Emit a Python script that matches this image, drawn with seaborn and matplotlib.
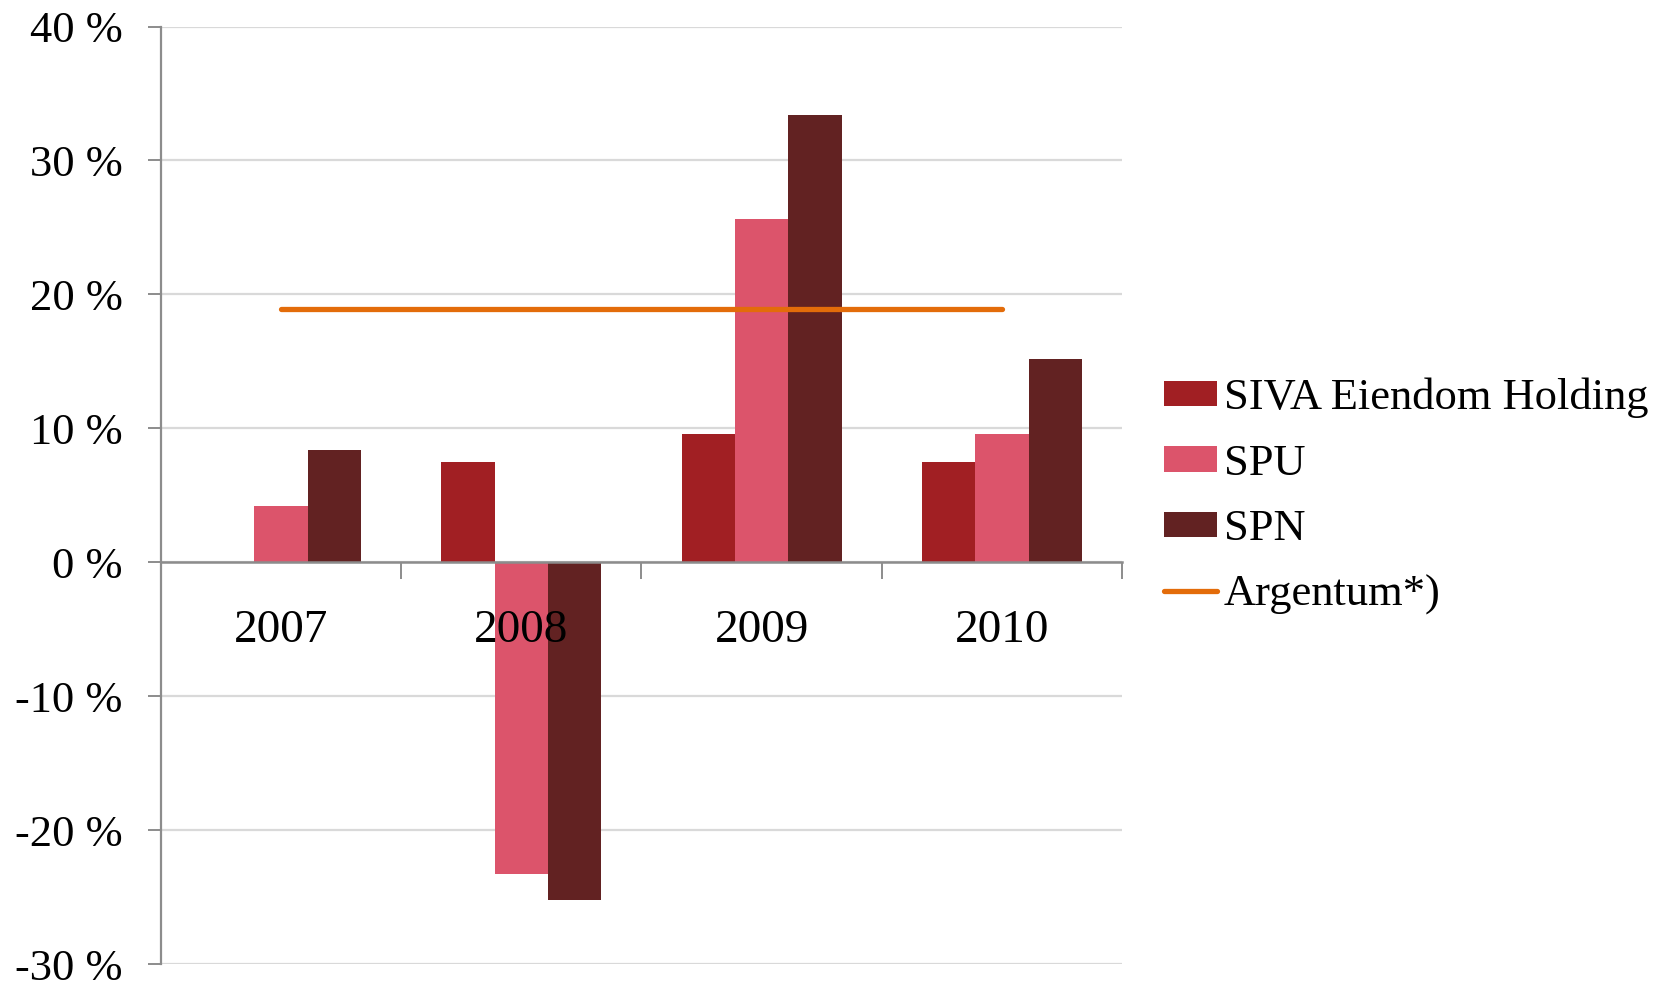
import numpy as np
import pandas as pd
import matplotlib
matplotlib.use("Agg")
import matplotlib.pyplot as plt
import seaborn as sns
from matplotlib.patches import Patch
from matplotlib.lines import Line2D

# ---- data ----
years = ["2007", "2008", "2009", "2010"]
siva = [np.nan, 7.5, 9.6, 7.5]
spu = [4.2, -23.3, 25.6, 9.6]
spn = [8.4, -25.2, 33.4, 15.2]
argentum = [18.9, 18.9, 18.9, 18.9]
series_names = ["SIVA Eiendom Holding", "SPU", "SPN"]
line_name = "Argentum*)"
ytick_values = [-30, -20, -10, 0, 10, 20, 30, 40]
ytick_labels = ["-30 %", "-20 %", "-10 %", "0 %", "10 %", "20 %", "30 %", "40 %"]

# ---- styles ----
bar_colors = ["#A11F23", "#DC546B", "#622222"]
line_color = "#E36C0A"
axis_color = "#8C8C8C"
grid_color = "#D9D9D9"

sns.set_style("white")
plt.rcParams["font.family"] = ["Liberation Serif", "DejaVu Serif"]
plt.rcParams["text.color"] = "black"
plt.rcParams["legend.labelcolor"] = "black"
FS_TICK = 32
FS_YEAR = 34
FS_LEG = 32

rows = []
for name, vals in zip(series_names, [siva, spu, spn]):
    for y, v in zip(years, vals):
        if not np.isnan(v):
            rows.append({"year": y, "series": name, "value": v})
df = pd.DataFrame(rows)

fig = plt.figure(figsize=(16.71, 9.84), dpi=100)
ax = fig.add_axes([0.0963, 0.0203, 0.5752, 0.9527])

sns.barplot(data=df, x="year", y="value", hue="series", order=years,
            hue_order=series_names, palette=bar_colors, width=0.667,
            saturation=1, linewidth=0, edgecolor="none", legend=False,
            errorbar=None, ax=ax)

sns.lineplot(x=np.arange(len(years)), y=argentum, color=line_color, lw=3.8,
             ax=ax, solid_capstyle="round", legend=False, zorder=4)

ax.set_xlim(-0.5, len(years) - 0.5)
ax.set_ylim(-30, 40)
ax.set_xlabel("")
ax.set_ylabel("")

ax.set_yticks(ytick_values)
ax.set_yticklabels(ytick_labels, fontsize=FS_TICK, color="black")
ax.yaxis.grid(True, color=grid_color, lw=1.6)
ax.xaxis.grid(False)
ax.set_axisbelow(True)

ax.set_xticks(np.arange(-0.5, len(years), 1.0))
ax.set_xticklabels([""] * (len(years) + 1))

for s in ["top", "right"]:
    ax.spines[s].set_visible(False)
ax.spines["left"].set_color(axis_color)
ax.spines["left"].set_linewidth(1.6)
ax.spines["bottom"].set_color(axis_color)
ax.spines["bottom"].set_linewidth(1.8)
ax.spines["bottom"].set_position(("data", 0))

ax.tick_params(axis="y", left=True, direction="out", length=9.5, width=1.4,
               color=axis_color, pad=18, labelcolor="black")
ax.tick_params(axis="x", bottom=True, direction="out", length=12, width=1.4,
               color=axis_color)

for i, y in enumerate(years):
    ax.text(i, -5.1, y, ha="center", va="center", fontsize=FS_YEAR,
            color="black", zorder=10)

handles = [Patch(facecolor=c, edgecolor="none") for c in bar_colors]
handles.append(Line2D([0], [0], color=line_color, lw=3.8, solid_capstyle="round"))
labels = series_names + [line_name]
fig.legend(handles, labels, loc="center left", bbox_to_anchor=(0.6966, 0.4955),
           frameon=False, fontsize=FS_LEG, borderpad=0, borderaxespad=0,
           handlelength=1.2, handleheight=0.5, handletextpad=0.15,
           labelspacing=0.57, labelcolor="black")

fig.savefig("out.png", dpi=100)
